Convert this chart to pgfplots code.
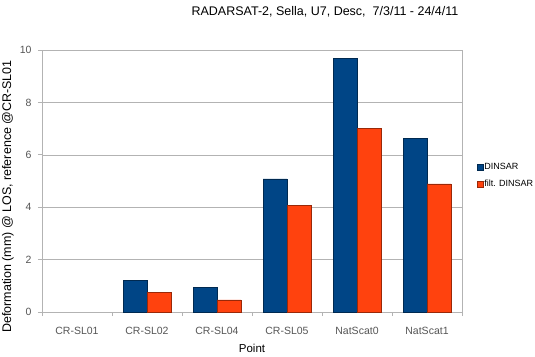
\documentclass[border=0pt]{standalone}
\usepackage{pgfplots}
\pgfplotsset{compat=1.18}
\usepackage{fontspec}
\setmainfont{Liberation Sans}
\definecolor{dblue}{HTML}{004586}
\definecolor{ored}{HTML}{FF420E}
\definecolor{gridgray}{HTML}{B3B3B3}
\definecolor{tickgray}{HTML}{555555}
\begin{document}
\begin{tikzpicture}
\useasboundingbox (-42pt,-44pt) rectangle (493pt,312pt);
\begin{axis}[
  scale only axis,
  width=420pt, height=262pt,
  ybar=0pt,
  bar width=0.34,
  xmin=-0.5, xmax=5.5,
  ymin=0, ymax=10,
  xtick={0,1,2,3,4,5},
  xticklabels={CR-SL01,CR-SL02,CR-SL04,CR-SL05,NatScat0,NatScat1},
  minor xtick={-0.5,0.5,1.5,2.5,3.5,4.5,5.5},
  ytick={0,2,4,6,8,10},
  axis line style={gridgray},
  major x tick style={draw=none},
  minor x tick style={gridgray, line width=0.6pt},
  minor tick length=4pt,
  major tick length=4pt,
  y tick style={gridgray, line width=0.6pt},
  tick align=outside,
  xtick pos=bottom, ytick pos=left,
  ymajorgrids,
  grid style={gridgray, line width=0.5pt},
  tick label style={font=\fontsize{10.5}{12}\selectfont, text=tickgray},
  /pgf/number format/assume math mode=true,
  xticklabel style={yshift=-8pt},
  yticklabel style={xshift=-3pt},
  xlabel={Point},
  xlabel style={font=\fontsize{11.5}{13}\selectfont, yshift=-2pt},
  legend style={at={(1.035,0.52)}, anchor=west, draw=none, fill=none,
    font=\fontsize{9}{11}\selectfont, row sep=5pt, inner sep=0pt,
    nodes={inner xsep=1.5pt}},
  legend image code/.code={\fill[#1] (0pt,-2.8pt) rectangle (5.6pt,2.8pt);},
  legend cell align=left,
  clip=false,
]
\addplot[fill=dblue, draw=dblue!60!black, line width=0.4pt] coordinates {(1,1.22) (2,0.95) (3,5.08) (4,9.69) (5,6.64)};
\addplot[fill=ored, draw=ored!60!black, line width=0.4pt] coordinates {(1,0.76) (2,0.46) (3,4.08) (4,7.02) (5,4.89)};
\legend{DINSAR, filt. DINSAR}
\end{axis}
\node[rotate=90, inner sep=0pt, font=\fontsize{12.5}{14}\selectfont, anchor=east] at (-34pt,252pt) {Deformation (mm) @ LOS, reference @CR-SL01};
\node[font=\fontsize{12.5}{15}\selectfont] at (283pt,300pt) {RADARSAT-2, Sella, U7, Desc,\ \ 7/3/11 - 24/4/11};
\end{tikzpicture}
\end{document}
